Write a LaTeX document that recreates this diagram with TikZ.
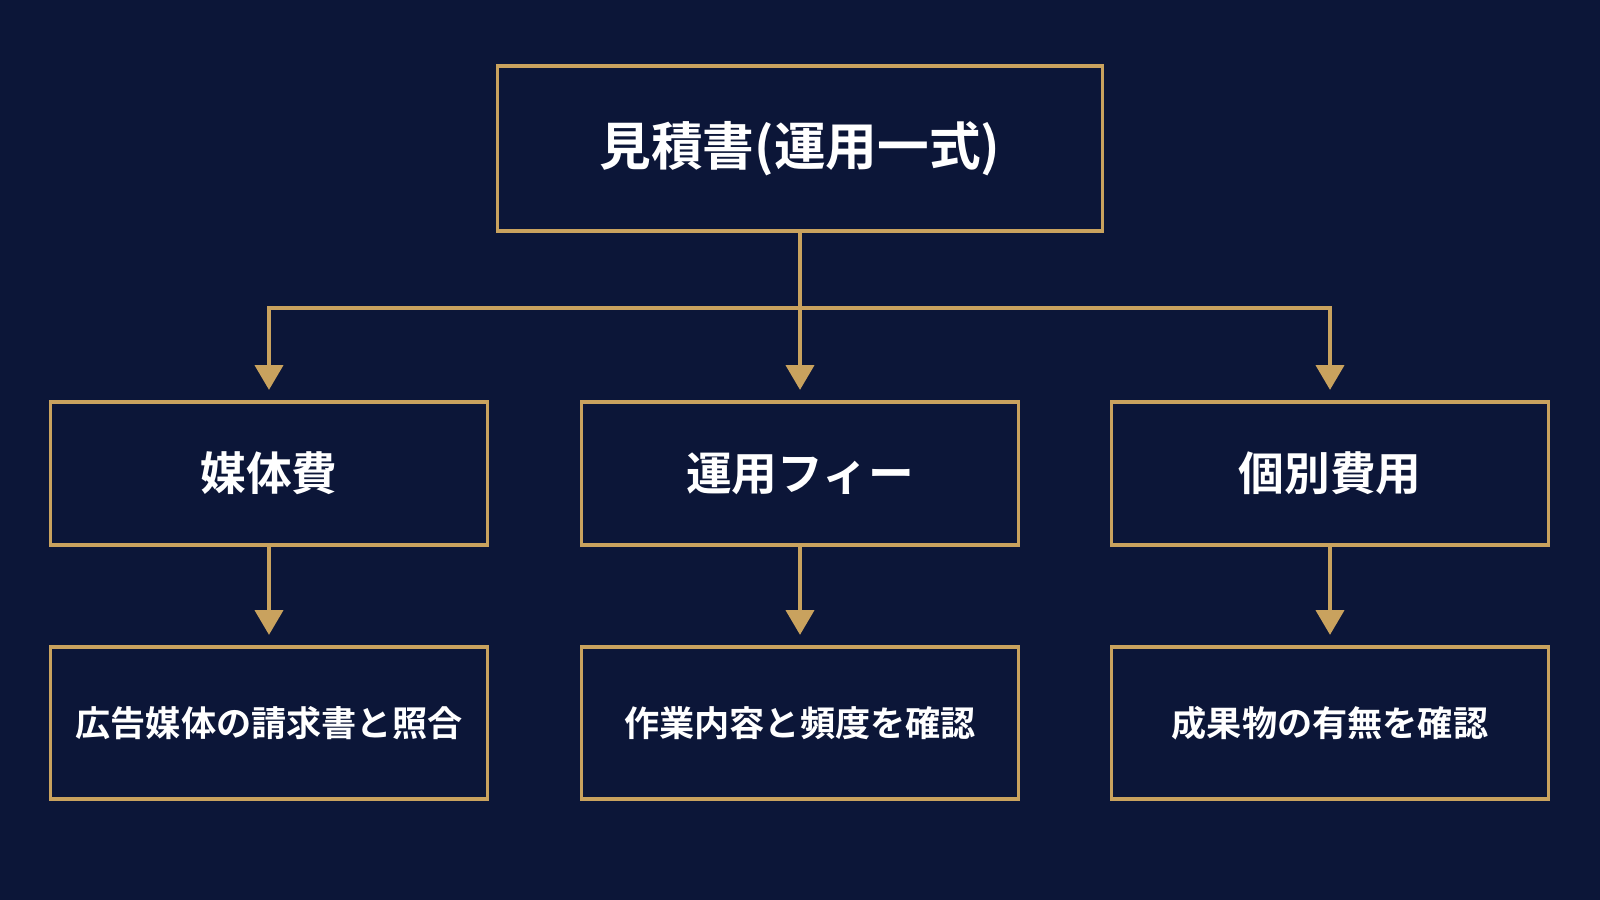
\documentclass[tikz,border=0pt]{standalone}
\usepackage{fontspec}
\setmainfont{Noto Sans CJK JP}[BoldFont={Noto Sans CJK JP Bold}]
\usetikzlibrary{arrows.meta}
\definecolor{bg}{HTML}{0C1638}
\definecolor{gold}{HTML}{C9A25E}
\begin{document}
\begin{tikzpicture}[x=0.01cm,y=-0.01cm,
  box/.style={draw=gold,line width=0.9pt,text=white,font=\bfseries,inner sep=0pt},
  arr/.style={draw=gold,line width=0.9pt,shorten >=3pt,-{Triangle[length=7pt,width=8pt]}}]
\fill[bg] (0,0) rectangle (1600,900);
\useasboundingbox (0,0) rectangle (1600,900);
\node[box,minimum width=6.04cm,minimum height=1.65cm,font=\bfseries\fontsize{14.7}{18}\selectfont] (top) at (800,148.5) {見積書(運用一式)};
\foreach \n/\x/\t/\b in {a/269/媒体費/広告媒体の請求書と照合, b/800/運用フィー/作業内容と頻度を確認, c/1330/個別費用/成果物の有無を確認}{
  \node[box,minimum width=4.36cm,minimum height=1.43cm,font=\bfseries\fontsize{13}{16}\selectfont] (\n1) at (\x,473.5) {\t};
  \node[box,minimum width=4.36cm,minimum height=1.52cm,font=\bfseries\fontsize{10}{12}\selectfont] (\n2) at (\x,723) {\b};
  \draw[arr] (\n1.south) -- (\n2.north);
}
\coordinate (j) at (800,308);
\draw[gold,line width=0.9pt] (top.south) -- (j);
\draw[arr] (j) -| (a1.north);
\draw[arr] (j) -- (b1.north);
\draw[arr] (j) -| (c1.north);
\end{tikzpicture}
\end{document}
